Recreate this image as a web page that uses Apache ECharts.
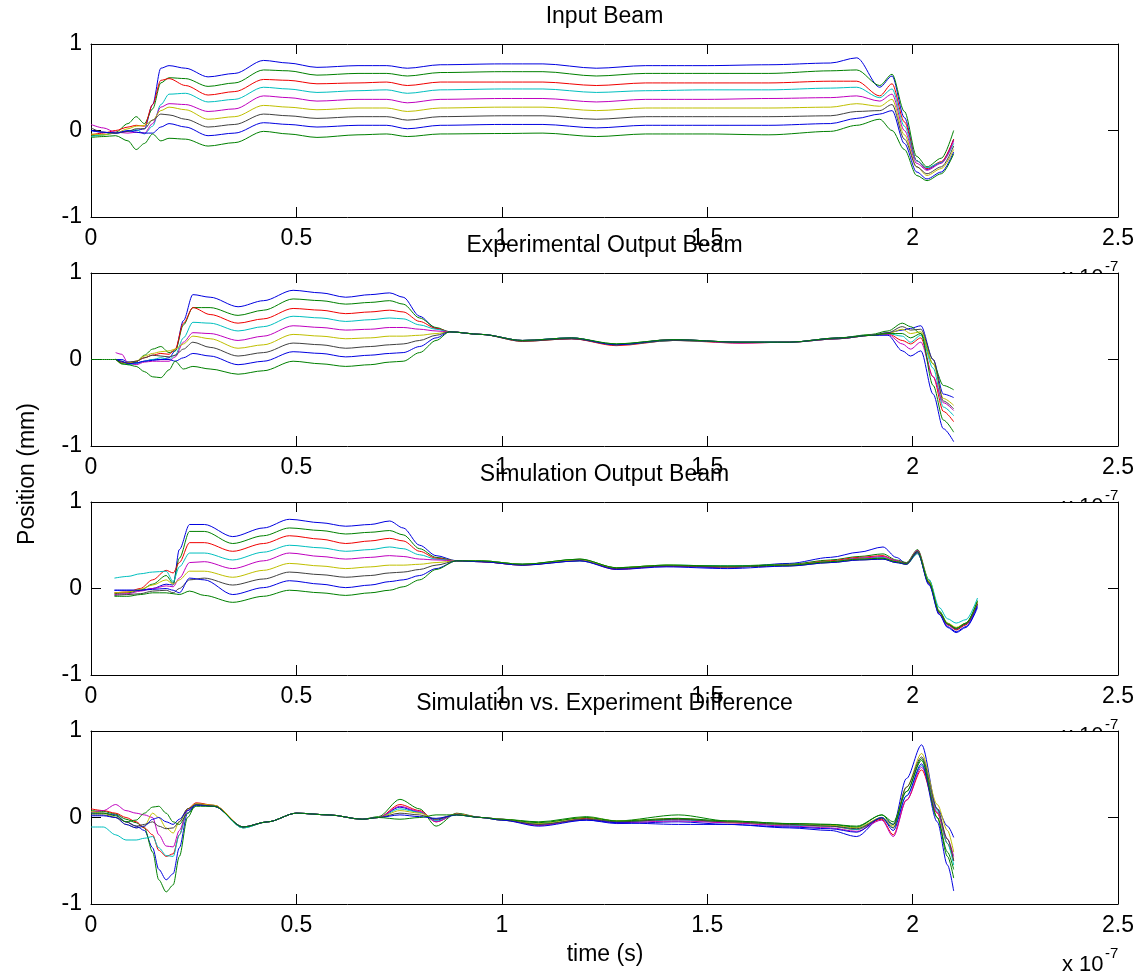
<!DOCTYPE html>
<html>
<head>
<meta charset="utf-8">
<script src="https://cdn.jsdelivr.net/npm/echarts@6/dist/echarts.min.js"></script>
<style>html,body{margin:0;padding:0;background:#fff}#c{width:1145px;height:979px}</style>
</head>
<body>
<div id="c"></div>
<script>
// ---------- DATA (time in units of 1e-7 s, position in mm) ----------
const panelTitles = ['Input Beam', 'Experimental Output Beam', 'Simulation Output Beam', 'Simulation vs. Experiment Difference'];
const xTickMin = 0, xTickMax = 2.5, xTickStep = 0.5;
const yTickMin = -1, yTickMax = 1, yTickStep = 1;

const timeInput = [0, 0.03, 0.06, 0.09, 0.11, 0.13, 0.15, 0.17, 0.19, 0.23, 0.285, 0.35, 0.42, 0.48, 0.55, 0.65, 0.72, 0.77, 0.85, 1.0, 1.1, 1.23, 1.35, 1.5, 1.65, 1.8, 1.864, 1.92, 1.95, 1.98, 2.01, 2.035, 2.07, 2.1];
const input1 = [0.0, -0.02, -0.03, -0.01, 0.0, 0.02, 0.3, 0.72, 0.75, 0.72, 0.62, 0.66, 0.81, 0.78, 0.73, 0.75, 0.75, 0.72, 0.76, 0.77, 0.77, 0.72, 0.75, 0.75, 0.76, 0.78, 0.84, 0.50, 0.63, 0.15, -0.35, -0.45, -0.37, -0.10];
const input2 = [-0.06, -0.05, -0.02, 0.08, 0.16, 0.08, 0.25, 0.55, 0.61, 0.60, 0.51, 0.55, 0.70, 0.69, 0.64, 0.66, 0.66, 0.63, 0.67, 0.68, 0.68, 0.63, 0.66, 0.66, 0.66, 0.69, 0.70, 0.52, 0.65, 0.22, -0.30, -0.42, -0.32, 0.0];
const input3 = [-0.05, -0.03, 0.0, 0.04, 0.06, 0.05, 0.3, 0.58, 0.60, 0.52, 0.41, 0.45, 0.59, 0.58, 0.54, 0.55, 0.56, 0.52, 0.56, 0.56, 0.56, 0.52, 0.55, 0.55, 0.55, 0.57, 0.57, 0.40, 0.54, 0.10, -0.35, -0.44, -0.36, -0.10];
const input4 = [-0.07, -0.05, -0.03, -0.01, 0.01, -0.04, 0.05, 0.30, 0.42, 0.43, 0.33, 0.36, 0.50, 0.48, 0.44, 0.46, 0.47, 0.43, 0.47, 0.48, 0.48, 0.44, 0.46, 0.47, 0.47, 0.49, 0.50, 0.38, 0.48, 0.05, -0.35, -0.43, -0.37, -0.15];
const input5 = [0.07, 0.03, -0.02, -0.03, -0.02, -0.03, 0.08, 0.27, 0.31, 0.30, 0.22, 0.25, 0.40, 0.38, 0.34, 0.36, 0.36, 0.32, 0.36, 0.37, 0.37, 0.33, 0.36, 0.36, 0.37, 0.38, 0.40, 0.34, 0.42, 0.0, -0.38, -0.46, -0.38, -0.12];
const input6 = [-0.04, -0.05, -0.03, 0.02, 0.05, 0.06, 0.12, 0.23, 0.27, 0.24, 0.13, 0.16, 0.29, 0.27, 0.24, 0.26, 0.26, 0.22, 0.26, 0.27, 0.27, 0.23, 0.26, 0.26, 0.26, 0.27, 0.31, 0.28, 0.36, -0.05, -0.42, -0.52, -0.44, -0.22];
const input7 = [0.03, -0.02, -0.03, -0.01, 0.02, 0.02, 0.12, 0.19, 0.18, 0.13, 0.04, 0.07, 0.19, 0.17, 0.14, 0.16, 0.16, 0.12, 0.16, 0.17, 0.17, 0.13, 0.16, 0.16, 0.16, 0.17, 0.22, 0.23, 0.30, -0.10, -0.42, -0.50, -0.42, -0.18];
const input8 = [0.0, -0.02, -0.03, 0.0, -0.02, -0.03, -0.03, 0.04, 0.08, 0.04, -0.06, -0.03, 0.09, 0.07, 0.04, 0.06, 0.06, 0.02, 0.06, 0.07, 0.07, 0.03, 0.06, 0.06, 0.06, 0.08, 0.14, 0.19, 0.23, -0.15, -0.48, -0.56, -0.48, -0.25];
const input9 = [-0.08, -0.07, -0.06, -0.12, -0.22, -0.15, -0.04, -0.12, -0.09, -0.10, -0.18, -0.14, -0.01, -0.04, -0.08, -0.05, -0.04, -0.07, -0.04, -0.035, -0.03, -0.07, -0.04, -0.04, -0.05, -0.01, 0.06, 0.13, 0.0, -0.22, -0.52, -0.58, -0.50, -0.27];

const timeExp = [0, 0.06, 0.075, 0.09, 0.11, 0.13, 0.15, 0.17, 0.19, 0.205, 0.225, 0.248, 0.29, 0.358, 0.42, 0.492, 0.56, 0.62, 0.68, 0.727, 0.76, 0.80, 0.84, 0.873, 0.95, 1.05, 1.17, 1.279, 1.417, 1.58, 1.7, 1.82, 1.9, 1.94, 1.975, 1.995, 2.02, 2.05, 2.075, 2.1];
const exp1 = [null, 0, 0.0, -0.03, -0.04, -0.02, 0.0, 0.0, 0.02, 0.1, 0.45, 0.75, 0.72, 0.61, 0.68, 0.80, 0.77, 0.72, 0.75, 0.77, 0.72, 0.50, 0.36, 0.32, 0.29, 0.22, 0.25, 0.17, 0.23, 0.20, 0.20, 0.25, 0.28, 0.31, 0.34, 0.36, 0.39, 0.0, -0.40, -0.44];
const exp2 = [null, 0, -0.02, -0.05, -0.03, 0.05, 0.12, 0.15, 0.08, 0.1, 0.4, 0.60, 0.60, 0.51, 0.57, 0.70, 0.68, 0.64, 0.66, 0.68, 0.64, 0.48, 0.37, 0.32, 0.29, 0.22, 0.24, 0.18, 0.23, 0.20, 0.20, 0.25, 0.29, 0.33, 0.42, 0.38, 0.30, -0.05, -0.30, -0.35];
const exp3 = [null, 0, -0.03, -0.04, -0.02, 0.02, 0.05, 0.07, 0.06, 0.12, 0.42, 0.60, 0.52, 0.42, 0.47, 0.59, 0.57, 0.53, 0.55, 0.57, 0.55, 0.44, 0.36, 0.32, 0.29, 0.21, 0.24, 0.16, 0.22, 0.19, 0.20, 0.24, 0.28, 0.30, 0.22, 0.18, 0.25, -0.2, -0.6, -0.72];
const exp4 = [null, 0, -0.05, -0.06, -0.05, -0.02, 0.0, 0.02, 0.0, 0.05, 0.25, 0.43, 0.42, 0.33, 0.38, 0.50, 0.48, 0.44, 0.46, 0.48, 0.47, 0.40, 0.35, 0.32, 0.29, 0.22, 0.25, 0.17, 0.22, 0.20, 0.20, 0.24, 0.28, 0.30, 0.27, 0.20, 0.28, -0.10, -0.55, -0.65];
const exp5 = [null, 0.08, 0.06, -0.04, -0.06, -0.03, -0.02, -0.02, -0.02, 0.03, 0.2, 0.31, 0.30, 0.22, 0.27, 0.39, 0.37, 0.34, 0.35, 0.37, 0.37, 0.35, 0.33, 0.32, 0.29, 0.22, 0.24, 0.17, 0.23, 0.19, 0.20, 0.24, 0.28, 0.29, 0.18, 0.12, 0.20, -0.20, -0.50, -0.59];
const exp6 = [null, 0, -0.05, -0.04, -0.02, 0.04, 0.07, 0.09, 0.10, 0.12, 0.18, 0.27, 0.24, 0.13, 0.17, 0.29, 0.27, 0.24, 0.25, 0.27, 0.27, 0.28, 0.30, 0.32, 0.29, 0.22, 0.25, 0.17, 0.23, 0.20, 0.20, 0.25, 0.28, 0.30, 0.35, 0.30, 0.32, -0.05, -0.45, -0.53];
const exp7 = [null, 0, -0.04, -0.03, -0.02, 0.02, 0.05, 0.04, 0.03, 0.05, 0.12, 0.2, 0.14, 0.04, 0.08, 0.19, 0.17, 0.13, 0.15, 0.17, 0.18, 0.22, 0.28, 0.32, 0.29, 0.21, 0.24, 0.17, 0.22, 0.20, 0.20, 0.24, 0.28, 0.31, 0.38, 0.34, 0.35, 0.0, -0.48, -0.57];
const exp8 = [null, 0, -0.02, -0.05, -0.04, -0.02, -0.01, 0.0, 0.0, -0.02, 0.02, 0.07, 0.04, -0.06, -0.02, 0.09, 0.07, 0.03, 0.05, 0.07, 0.08, 0.15, 0.25, 0.32, 0.29, 0.22, 0.25, 0.17, 0.23, 0.20, 0.20, 0.25, 0.28, 0.28, 0.10, 0.04, 0.10, -0.40, -0.80, -0.95];
const exp9 = [0, 0, -0.05, -0.06, -0.08, -0.14, -0.2, -0.21, -0.12, -0.02, -0.11, -0.08, -0.11, -0.17, -0.13, -0.02, -0.05, -0.08, -0.06, -0.03, -0.02, 0.08, 0.22, 0.32, 0.29, 0.22, 0.25, 0.18, 0.23, 0.20, 0.20, 0.25, 0.28, 0.30, 0.30, 0.25, 0.30, -0.30, -0.70, -0.84];

const timeSim = [0.057, 0.09, 0.12, 0.15, 0.183, 0.2, 0.215, 0.24, 0.276, 0.345, 0.42, 0.483, 0.56, 0.62, 0.68, 0.727, 0.76, 0.80, 0.84, 0.89, 0.95, 1.05, 1.19, 1.279, 1.4, 1.55, 1.7, 1.8, 1.87, 1.928, 1.96, 1.985, 2.012, 2.04, 2.065, 2.085, 2.106, 2.13, 2.158];
const sim1 = [-0.02, -0.02, -0.02, 0.0, 0.05, 0.04, 0.45, 0.74, 0.74, 0.60, 0.70, 0.80, 0.76, 0.72, 0.74, 0.78, 0.70, 0.50, 0.38, 0.32, 0.31, 0.28, 0.33, 0.23, 0.26, 0.24, 0.29, 0.36, 0.42, 0.48, 0.36, 0.29, 0.43, 0.05, -0.30, -0.45, -0.51, -0.45, -0.22];
const sim2 = [-0.06, -0.05, -0.02, 0.05, 0.15, 0.06, 0.35, 0.66, 0.66, 0.52, 0.61, 0.70, 0.67, 0.63, 0.65, 0.67, 0.62, 0.46, 0.36, 0.32, 0.32, 0.28, 0.34, 0.24, 0.27, 0.26, 0.28, 0.33, 0.37, 0.40, 0.33, 0.30, 0.45, 0.10, -0.26, -0.40, -0.46, -0.40, -0.15];
const sim3 = [-0.05, -0.04, 0.0, 0.10, 0.21, 0.18, 0.30, 0.53, 0.53, 0.43, 0.52, 0.61, 0.57, 0.52, 0.55, 0.58, 0.55, 0.43, 0.35, 0.32, 0.31, 0.27, 0.33, 0.22, 0.26, 0.25, 0.27, 0.32, 0.36, 0.38, 0.32, 0.29, 0.44, 0.08, -0.28, -0.42, -0.48, -0.42, -0.18];
const sim4 = [0.12, 0.14, 0.17, 0.19, 0.20, 0.08, 0.25, 0.41, 0.41, 0.33, 0.42, 0.50, 0.47, 0.43, 0.45, 0.48, 0.46, 0.39, 0.34, 0.32, 0.32, 0.28, 0.32, 0.24, 0.27, 0.26, 0.27, 0.31, 0.35, 0.36, 0.31, 0.28, 0.40, 0.10, -0.22, -0.35, -0.40, -0.36, -0.11];
const sim5 = [-0.07, -0.06, -0.03, 0.0, 0.03, 0.02, 0.12, 0.30, 0.31, 0.23, 0.32, 0.41, 0.37, 0.34, 0.36, 0.38, 0.37, 0.34, 0.33, 0.32, 0.31, 0.27, 0.33, 0.23, 0.26, 0.25, 0.27, 0.31, 0.35, 0.37, 0.32, 0.29, 0.44, 0.06, -0.28, -0.42, -0.47, -0.41, -0.17];
const sim6 = [-0.05, -0.04, -0.01, 0.04, 0.10, 0.05, 0.1, 0.2, 0.20, 0.13, 0.21, 0.29, 0.26, 0.23, 0.25, 0.27, 0.27, 0.28, 0.30, 0.32, 0.32, 0.28, 0.33, 0.24, 0.27, 0.25, 0.27, 0.31, 0.34, 0.35, 0.31, 0.28, 0.42, 0.08, -0.27, -0.40, -0.45, -0.40, -0.16];
const sim7 = [-0.08, -0.07, -0.06, -0.03, -0.02, -0.05, 0.0, 0.1, 0.12, 0.04, 0.11, 0.19, 0.16, 0.13, 0.15, 0.18, 0.19, 0.22, 0.27, 0.32, 0.31, 0.27, 0.32, 0.23, 0.26, 0.25, 0.26, 0.30, 0.33, 0.34, 0.30, 0.28, 0.41, 0.06, -0.28, -0.41, -0.47, -0.41, -0.18];
const sim8 = [-0.02, -0.02, -0.02, -0.01, 0.0, -0.02, -0.05, 0.12, 0.10, -0.07, 0.01, 0.09, 0.05, 0.01, 0.04, 0.08, 0.10, 0.15, 0.23, 0.32, 0.31, 0.27, 0.32, 0.22, 0.25, 0.23, 0.26, 0.30, 0.33, 0.34, 0.30, 0.28, 0.42, 0.04, -0.30, -0.44, -0.50, -0.44, -0.20];
const sim9 = [-0.09, -0.09, -0.07, -0.05, -0.05, -0.06, -0.07, -0.03, -0.08, -0.16, -0.09, -0.02, -0.05, -0.08, -0.05, -0.02, 0.02, 0.10, 0.22, 0.32, 0.32, 0.28, 0.34, 0.24, 0.27, 0.26, 0.27, 0.31, 0.34, 0.35, 0.31, 0.29, 0.43, 0.07, -0.27, -0.41, -0.46, -0.40, -0.14];

const timeDiff = [0, 0.03, 0.06, 0.085, 0.11, 0.13, 0.15, 0.165, 0.183, 0.2, 0.215, 0.235, 0.256, 0.3, 0.37, 0.43, 0.5, 0.58, 0.66, 0.7, 0.752, 0.8, 0.84, 0.89, 0.95, 1.0, 1.09, 1.206, 1.28, 1.43, 1.55, 1.7, 1.8, 1.864, 1.925, 1.953, 1.985, 2.022, 2.06, 2.085, 2.1];
const diff1 = [0.05, 0.05, 0.03, -0.05, -0.1, -0.15, -0.35, -0.6, -0.72, -0.65, -0.35, 0.05, 0.15, 0.13, -0.11, -0.05, 0.05, 0.03, -0.02, 0.0, 0.12, 0.06, -0.03, 0.04, 0.0, -0.02, -0.08, -0.03, -0.07, -0.05, -0.08, -0.12, -0.15, -0.22, 0.0, -0.08, 0.45, 0.84, 0.10, -0.10, -0.23];
const diff2 = [0.08, 0.07, 0.04, -0.02, -0.06, -0.12, -0.4, -0.72, -0.86, -0.78, -0.45, 0.0, 0.16, 0.14, -0.12, -0.05, 0.05, 0.03, -0.02, 0.01, 0.21, 0.1, -0.1, 0.05, 0.0, -0.02, -0.05, 0.01, -0.04, 0.03, -0.04, -0.07, -0.08, -0.1, 0.03, -0.05, 0.3, 0.68, 0.0, -0.4, -0.6];
const diff3 = [0.1, 0.08, 0.05, 0.0, -0.05, -0.12, -0.2, -0.38, -0.45, -0.42, -0.2, 0.1, 0.17, 0.14, -0.11, -0.05, 0.05, 0.03, -0.02, 0.0, 0.15, 0.08, -0.05, 0.04, 0.0, -0.03, -0.09, -0.01, -0.05, -0.02, -0.06, -0.09, -0.1, -0.14, -0.02, -0.2, 0.2, 0.55, 0.05, -0.3, -0.5];
const diff4 = [-0.11, -0.11, -0.2, -0.26, -0.26, -0.24, -0.22, -0.35, -0.44, -0.45, -0.2, 0.08, 0.15, 0.13, -0.12, -0.05, 0.05, 0.03, -0.02, 0.0, 0.1, 0.06, -0.04, 0.03, 0.0, -0.03, -0.08, -0.02, -0.05, -0.03, -0.05, -0.09, -0.1, -0.14, 0.0, -0.12, 0.25, 0.60, 0.08, -0.3, -0.55];
const diff5 = [0.06, 0.08, 0.15, 0.08, 0.05, 0.03, 0.0, -0.2, -0.33, -0.34, -0.15, 0.08, 0.16, 0.13, -0.11, -0.05, 0.05, 0.03, -0.02, 0.0, 0.13, 0.07, -0.05, 0.04, 0.0, -0.02, -0.09, -0.02, -0.06, -0.04, -0.06, -0.1, -0.12, -0.16, -0.03, -0.22, 0.2, 0.58, 0.06, -0.25, -0.45];
const diff6 = [0.07, 0.05, 0.0, -0.08, -0.12, -0.1, 0.05, 0.0, -0.12, -0.18, -0.05, 0.1, 0.16, 0.14, -0.11, -0.05, 0.05, 0.03, -0.02, 0.0, 0.08, 0.05, -0.02, 0.04, 0.0, -0.02, -0.07, 0.0, -0.04, -0.01, -0.05, -0.08, -0.09, -0.12, 0.0, -0.1, 0.35, 0.74, 0.15, -0.15, -0.4];
const diff7 = [0.03, 0.03, 0.0, -0.05, -0.1, -0.08, -0.05, -0.1, -0.13, -0.12, -0.05, 0.1, 0.15, 0.13, -0.11, -0.05, 0.05, 0.03, -0.02, 0.0, 0.05, 0.03, -0.02, 0.03, 0.0, -0.03, -0.08, -0.02, -0.05, -0.02, -0.05, -0.08, -0.1, -0.13, -0.01, -0.12, 0.35, 0.70, 0.1, -0.25, -0.5];
const diff8 = [0.02, 0.02, 0.0, -0.08, -0.12, -0.1, -0.02, 0.0, -0.05, -0.08, -0.02, 0.08, 0.14, 0.13, -0.11, -0.05, 0.05, 0.03, -0.02, 0.0, 0.03, 0.01, -0.01, 0.03, 0.0, -0.03, -0.1, -0.03, -0.06, -0.08, -0.08, -0.11, -0.13, -0.17, 0.0, -0.15, 0.25, 0.62, -0.05, -0.55, -0.85];
const diff9 = [0.05, 0.05, 0.02, -0.05, -0.03, 0.05, 0.12, 0.13, 0.05, -0.05, -0.08, 0.05, 0.13, 0.13, -0.11, -0.05, 0.05, 0.03, -0.02, 0.0, -0.02, 0.0, 0.03, 0.03, 0.0, -0.02, -0.06, 0.0, -0.04, -0.01, -0.04, -0.07, -0.08, -0.11, 0.03, -0.08, 0.3, 0.66, 0.0, -0.45, -0.7];

// ---------- CHART ----------
const FONT = '"Liberation Sans", Arial, sans-serif';
const lineColors = ['#0000e0', '#008000', '#f00000', '#00bfbf', '#bf00bf', '#bfbf00', '#404040', '#0000e0', '#008000'];
const panels = [
  { time: timeInput, lines: [input1, input2, input3, input4, input5, input6, input7, input8, input9] },
  { time: timeExp, lines: [exp1, exp2, exp3, exp4, exp5, exp6, exp7, exp8, exp9] },
  { time: timeSim, lines: [sim1, sim2, sim3, sim4, sim5, sim6, sim7, sim8, sim9] },
  { time: timeDiff, lines: [diff1, diff2, diff3, diff4, diff5, diff6, diff7, diff8, diff9] }
];

const GL = 91, GW = 1027, GH = 173;
const gridTops = [44, 273, 502, 731];

const grids = [], xAxes = [], yAxes = [], series = [], graphics = [];
panels.forEach((p, i) => {
  grids.push({ left: GL, top: gridTops[i], width: GW, height: GH, show: true, backgroundColor: '#fff', borderWidth: 0, containLabel: false });
  const xBase = {
    gridIndex: i, type: 'value', min: xTickMin, max: xTickMax, interval: xTickStep,
    axisLine: { show: true, onZero: false, lineStyle: { color: '#000', width: 1 } },
    axisTick: { show: true, inside: true, length: 10, lineStyle: { color: '#000', width: 1 } },
    splitLine: { show: false }
  };
  xAxes.push(Object.assign({}, xBase, { position: 'bottom',
    axisLabel: { show: true, fontSize: 23, color: '#000', fontFamily: FONT, margin: 10 } }));
  xAxes.push(Object.assign({}, xBase, { position: 'top', axisLabel: { show: false } }));
  const yBase = {
    gridIndex: i, type: 'value', min: yTickMin, max: yTickMax, interval: yTickStep,
    axisLine: { show: true, onZero: false, lineStyle: { color: '#000', width: 1 } },
    axisTick: { show: true, inside: true, length: 10, lineStyle: { color: '#000', width: 1 } },
    splitLine: { show: false }
  };
  yAxes.push(Object.assign({}, yBase, { position: 'left',
    axisLabel: { show: true, fontSize: 23, color: '#000', fontFamily: FONT, margin: 9 } }));
  yAxes.push(Object.assign({}, yBase, { position: 'right', axisLabel: { show: false } }));

  p.lines.forEach((vals, k) => {
    series.push({
      type: 'line', xAxisIndex: 2 * i, yAxisIndex: 2 * i,
      data: p.time.map((t, j) => [t, vals[j]]),
      showSymbol: false, symbol: 'none', connectNulls: false,
      smooth: 0.3, smoothMonotone: 'x',
      lineStyle: { color: lineColors[k], width: 1 },
      itemStyle: { color: lineColors[k] },
      z: 2, silent: true
    });
  });

  const cx = GL + GW / 2;
  graphics.push({ type: 'text', x: cx, y: gridTops[i] - 27, z: 50,
    style: { text: panelTitles[i], font: '23px ' + FONT, fill: '#000', textAlign: 'center', textVerticalAlign: 'middle' } });
  const bottom = gridTops[i] + GH;
  graphics.push({ type: 'text', x: 1062, y: bottom + 61, z: -1,
    style: { text: 'x 10', font: '22px ' + FONT, fill: '#000', textAlign: 'left', textVerticalAlign: 'middle' } });
  graphics.push({ type: 'text', x: 1105, y: bottom + 50, z: -1,
    style: { text: '-7', font: '15px ' + FONT, fill: '#000', textAlign: 'left', textVerticalAlign: 'middle' } });
});

graphics.push({ type: 'text', x: 605, y: 955, z: 50,
  style: { text: 'time (s)', font: '23px ' + FONT, fill: '#000', textAlign: 'center', textVerticalAlign: 'middle' } });
graphics.push({ type: 'text', x: 28, y: 474, rotation: Math.PI / 2, z: 50,
  style: { text: 'Position (mm)', font: '23px ' + FONT, fill: '#000', textAlign: 'center', textVerticalAlign: 'middle' } });

const chart = echarts.init(document.getElementById('c'), null, { renderer: 'canvas' });
chart.setOption({
  backgroundColor: '#fff',
  animation: false,
  grid: grids,
  xAxis: xAxes,
  yAxis: yAxes,
  series: series,
  graphic: graphics
});
</script>
</body>
</html>
